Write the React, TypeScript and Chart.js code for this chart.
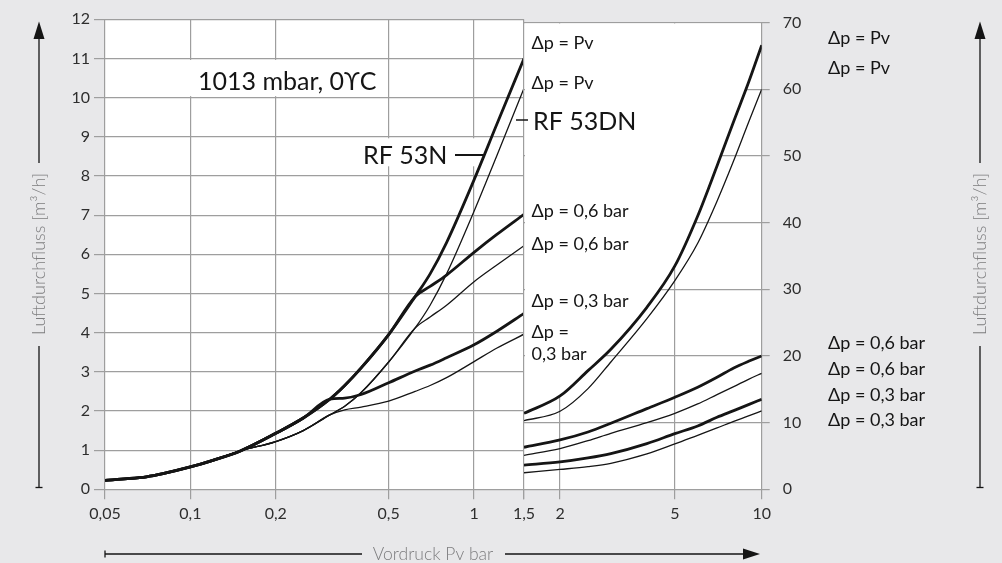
import React, { useEffect, useRef } from 'react';
import { Chart, registerables } from 'chart.js';

Chart.register(...registerables);

const FONT = "Lato, 'DejaVu Sans', sans-serif";
const INK = '#151515';
const GRID = '#9e9e9e';
const TICK_TEXT = '#2e2e2e';
const BG = '#e8e8ea';

// ---------- left panel (0,05 … 1,5 bar, left axis 0 … 12 m³/h) ----------
const leftPressure = [0.05, 0.06, 0.07, 0.08, 0.1, 0.12, 0.15, 0.2, 0.25, 0.31, 0.35, 0.4, 0.5, 0.62, 0.7, 0.8, 1.0, 1.2, 1.5];
const rf53nPvLeft = [0.23, 0.27, 0.32, 0.4, 0.57, 0.74, 0.98, 1.43, 1.82, 2.3, 2.65, 3.1, 3.95, 4.92, 5.5, 6.3, 7.9, 9.3, 11.0];
const rf53dnPvLeft = [0.23, 0.27, 0.32, 0.4, 0.57, 0.74, 0.98, 1.22, 1.5, 1.9, 2.12, 2.47, 3.25, 4.12, 4.7, 5.5, 7.1, 8.5, 10.24];
const rf53n06Left = [0.23, 0.27, 0.32, 0.4, 0.57, 0.74, 0.98, 1.43, 1.82, 2.3, 2.65, 3.1, 3.95, 4.92, 5.18, 5.47, 6.05, 6.5, 7.02];
const rf53dn06Left = [0.23, 0.27, 0.32, 0.4, 0.57, 0.74, 0.98, 1.22, 1.5, 1.9, 2.12, 2.47, 3.25, 4.12, 4.4, 4.7, 5.3, 5.72, 6.22];
const rf53n03Left = [0.23, 0.27, 0.32, 0.4, 0.57, 0.74, 0.98, 1.43, 1.82, 2.3, 2.33, 2.42, 2.72, 3.02, 3.17, 3.36, 3.69, 4.03, 4.49];
const rf53dn03Left = [0.23, 0.27, 0.32, 0.4, 0.57, 0.74, 0.98, 1.22, 1.5, 1.9, 2.03, 2.1, 2.25, 2.5, 2.65, 2.85, 3.26, 3.6, 3.96];
const leftPressureTicks = [0.05, 0.1, 0.2, 0.5, 1, 1.5];
const leftFlowMax = 12;

// ---------- right panel (1,5 … 10 bar, right axis 0 … 70 m³/h) ----------
const rightPressure = [1.5, 2, 2.5, 3, 4, 5, 6, 7, 8, 9, 10];
const rf53nPvRight = [11.4, 14.0, 17.8, 21.0, 27.3, 33.5, 41.0, 48.5, 55.2, 61.0, 66.6];
const rf53dnPvRight = [10.3, 11.7, 15.1, 19.1, 25.6, 31.3, 36.9, 43.2, 49.3, 55.0, 60.0];
const rf53n06Right = [6.3, 7.4, 8.6, 9.9, 12.1, 13.8, 15.3, 16.8, 18.2, 19.2, 20.0];
const rf53dn06Right = [5.1, 6.1, 7.3, 8.4, 10.0, 11.4, 12.8, 14.2, 15.4, 16.5, 17.4];
const rf53n03Right = [3.62, 4.1, 4.7, 5.35, 6.85, 8.35, 9.5, 10.8, 11.8, 12.7, 13.5];
const rf53dn03Right = [2.48, 2.98, 3.4, 3.9, 5.3, 6.8, 8.1, 9.2, 10.2, 11.0, 11.75];
const rightPressureTicks = [1.5, 2, 5, 10];
const rightFlowMax = 70;

const BOLD = 2.8;
const THIN = 1.3;

const fmt = (v: number) => String(v).replace('.', ',');

function line(label: string, xs: number[], ys: number[], bold: boolean) {
  return {
    label,
    data: xs.map((x, i) => ({ x, y: ys[i] })),
    borderColor: INK,
    borderWidth: bold ? BOLD : THIN,
    pointRadius: 0,
    fill: false,
    cubicInterpolationMode: 'monotone' as const,
  };
}

function txt(ctx: CanvasRenderingContext2D, s: string, x: number, y: number, size: number, opts: any = {}) {
  ctx.save();
  ctx.font = `${opts.weight || '400'} ${size}px ${FONT}`;
  ctx.fillStyle = opts.color || INK;
  ctx.textAlign = opts.align || 'left';
  ctx.textBaseline = opts.baseline || 'alphabetic';
  ctx.fillText(s, x, y);
  ctx.restore();
}

function seg(ctx: CanvasRenderingContext2D, x1: number, y1: number, x2: number, y2: number, w: number, color = INK) {
  ctx.save();
  ctx.strokeStyle = color;
  ctx.lineWidth = w;
  ctx.beginPath();
  ctx.moveTo(x1, y1);
  ctx.lineTo(x2, y2);
  ctx.stroke();
  ctx.restore();
}

const whitePlot = {
  id: 'whitePlot',
  beforeDraw(chart: any) {
    const { ctx, chartArea: a } = chart;
    ctx.save();
    ctx.fillStyle = '#ffffff';
    ctx.fillRect(a.left, a.top, a.right - a.left, a.bottom - a.top);
    ctx.restore();
  },
};

const leftNotes = {
  id: 'leftNotes',
  beforeDatasetsDraw(chart: any) {
    const { ctx } = chart;
    const y = chart.scales.y;
    ctx.save();
    ctx.fillStyle = '#ffffff';
    // label boxes hide the grid behind the text
    ctx.fillRect(190, y.getPixelForValue(11) + 1.5, 192, y.getPixelForValue(10) - y.getPixelForValue(11) - 3);
    ctx.fillRect(355, y.getPixelForValue(9) + 1.5, 127, 28);
    ctx.restore();
  },
  afterDatasetsDraw(chart: any) {
    const { ctx } = chart;
    txt(ctx, '1013 mbar, 0ϒC', 198, 89.5, 25);
    txt(ctx, 'RF 53N', 363, 163.5, 25);
    seg(ctx, 455, 155, 485, 155, 2);
  },
};

const rightMask = {
  id: 'rightMask',
  beforeDatasetsDraw(chart: any) {
    const { ctx, chartArea: a } = chart;
    const el = chart.getDatasetMeta(0).dataset;
    if (!el || typeof el.path !== 'function') return;
    ctx.save();
    ctx.beginPath();
    ctx.rect(a.left + 1, a.top + 1, a.right - a.left - 2, a.bottom - a.top - 2);
    ctx.clip();
    ctx.beginPath();
    el.path(ctx);
    ctx.lineTo(a.right, a.top);
    ctx.lineTo(a.left, a.top);
    ctx.closePath();
    ctx.fillStyle = '#ffffff';
    ctx.fill();
    ctx.restore();
  },
  afterDatasetsDraw(chart: any) {
    const { ctx } = chart;
    const lx = 531.5;
    txt(ctx, 'Δp = Pv', lx, 48.5, 18);
    txt(ctx, 'Δp = Pv', lx, 88.5, 18);
    seg(ctx, 516, 120, 528, 120, 1.5);
    txt(ctx, 'RF 53DN', 533, 129.5, 25);
    txt(ctx, 'Δp = 0,6 bar', lx, 217, 18);
    txt(ctx, 'Δp = 0,6 bar', lx, 250, 18);
    txt(ctx, 'Δp = 0,3 bar', lx, 307, 18);
    txt(ctx, 'Δp =', lx, 338, 18);
    txt(ctx, '0,3 bar', lx, 359.5, 18);
  },
  afterDraw(chart: any) {
    const { ctx } = chart;
    // outside notes
    const ox = 828;
    txt(ctx, 'Δp = Pv', ox, 43.5, 18);
    txt(ctx, 'Δp = Pv', ox, 73.5, 18);
    txt(ctx, 'Δp = 0,6 bar', ox, 348.5, 18);
    txt(ctx, 'Δp = 0,6 bar', ox, 375, 18);
    txt(ctx, 'Δp = 0,3 bar', ox, 400.5, 18);
    txt(ctx, 'Δp = 0,3 bar', ox, 426, 18);

    // vertical axis titles with arrows (left and right)
    for (const x of [39, 980]) {
      seg(ctx, x, 163, x, 36, 1.3);
      ctx.save();
      ctx.fillStyle = INK;
      ctx.beginPath();
      ctx.moveTo(x, 21.5);
      ctx.lineTo(x - 5.5, 39);
      ctx.lineTo(x + 5.5, 39);
      ctx.closePath();
      ctx.fill();
      ctx.restore();
      seg(ctx, x, 346, x, 487.5, 1.3);
      seg(ctx, x - 3.5, 487.5, x + 3.5, 487.5, 1.3);
      ctx.save();
      ctx.translate(x, 254);
      ctx.rotate(-Math.PI / 2);
      txt(ctx, 'Luftdurchfluss [m³/h]', 0, 0, 18, { color: '#7d7d7f', weight: '300', align: 'center', baseline: 'middle' });
      ctx.restore();
    }

    // horizontal axis title with arrow
    const yb = 554;
    seg(ctx, 105, yb, 362, yb, 1.3);
    seg(ctx, 105, yb - 3.5, 105, yb + 3.5, 1.3);
    txt(ctx, 'Vordruck Pv bar', 433, 559.5, 17.5, { color: '#7d7d7f', weight: '300', align: 'center' });
    seg(ctx, 505, yb, 746, yb, 1.3);
    ctx.save();
    ctx.fillStyle = INK;
    ctx.beginPath();
    ctx.moveTo(760, yb);
    ctx.lineTo(743, yb - 5.5);
    ctx.lineTo(743, yb + 5.5);
    ctx.closePath();
    ctx.fill();
    ctx.restore();
  },
};

const tickFont = { family: FONT, size: 16 };

function leftConfig(): any {
  return {
    type: 'line',
    data: {
      datasets: [
        line('RF 53N Δp = Pv', leftPressure, rf53nPvLeft, true),
        line('RF 53DN Δp = Pv', leftPressure, rf53dnPvLeft, false),
        line('RF 53N Δp = 0,6 bar', leftPressure, rf53n06Left, true),
        line('RF 53DN Δp = 0,6 bar', leftPressure, rf53dn06Left, false),
        line('RF 53N Δp = 0,3 bar', leftPressure, rf53n03Left, true),
        line('RF 53DN Δp = 0,3 bar', leftPressure, rf53dn03Left, false),
      ],
    },
    options: {
      responsive: false,
      animation: false,
      devicePixelRatio: 1,
      layout: { padding: { left: 0, top: 19.3, right: 478, bottom: 0 } },
      plugins: { legend: { display: false }, tooltip: { enabled: false } },
      scales: {
        x: {
          type: 'logarithmic',
          min: leftPressureTicks[0],
          max: leftPressureTicks[leftPressureTicks.length - 1],
          afterBuildTicks: (s: any) => { s.ticks = leftPressureTicks.map((v) => ({ value: v })); },
          afterFit: (s: any) => { s.height = 73.7; },
          ticks: { callback: (v: number) => fmt(v), autoSkip: false, maxRotation: 0, font: tickFont, color: TICK_TEXT, padding: 5 },
          grid: { color: GRID, lineWidth: 1.2, tickLength: 10, tickColor: GRID },
          border: { display: false },
        },
        y: {
          type: 'linear',
          min: 0,
          max: leftFlowMax,
          afterFit: (s: any) => { s.width = 105; },
          ticks: { stepSize: 1, font: tickFont, color: TICK_TEXT, padding: 4 },
          grid: { color: GRID, lineWidth: 1.2, tickLength: 11, tickColor: GRID },
          border: { display: false },
        },
      },
    },
    plugins: [whitePlot, leftNotes],
  };
}

function rightConfig(): any {
  return {
    type: 'line',
    data: {
      datasets: [
        line('RF 53N Δp = Pv', rightPressure, rf53nPvRight, true),
        line('RF 53DN Δp = Pv', rightPressure, rf53dnPvRight, false),
        line('RF 53N Δp = 0,6 bar', rightPressure, rf53n06Right, true),
        line('RF 53DN Δp = 0,6 bar', rightPressure, rf53dn06Right, false),
        line('RF 53N Δp = 0,3 bar', rightPressure, rf53n03Right, true),
        line('RF 53DN Δp = 0,3 bar', rightPressure, rf53dn03Right, false),
      ],
    },
    options: {
      responsive: false,
      animation: false,
      devicePixelRatio: 1,
      layout: { padding: { left: 524, top: 19.3, right: 180.3, bottom: 0 } },
      plugins: { legend: { display: false }, tooltip: { enabled: false } },
      scales: {
        x: {
          type: 'logarithmic',
          min: rightPressureTicks[0],
          max: rightPressureTicks[rightPressureTicks.length - 1],
          afterBuildTicks: (s: any) => { s.ticks = rightPressureTicks.map((v) => ({ value: v })); },
          afterFit: (s: any) => { s.height = 73.7; },
          ticks: { callback: (v: number) => (v === rightPressureTicks[0] ? '' : fmt(v)), autoSkip: false, maxRotation: 0, font: tickFont, color: TICK_TEXT, padding: 5 },
          grid: { color: GRID, lineWidth: 1.2, tickLength: 10, tickColor: GRID },
          border: { display: false },
        },
        y: {
          type: 'linear',
          position: 'right',
          min: 0,
          max: rightFlowMax,
          afterFit: (s: any) => { s.width = 60; },
          ticks: { stepSize: 10, font: tickFont, color: TICK_TEXT, padding: 13 },
          grid: { color: GRID, lineWidth: 1.2, tickLength: 8, tickColor: GRID },
          border: { display: false },
        },
      },
    },
    plugins: [whitePlot, rightMask],
  };
}

export default function App() {
  const leftRef = useRef<HTMLCanvasElement>(null);
  const rightRef = useRef<HTMLCanvasElement>(null);

  useEffect(() => {
    const c1 = new Chart(leftRef.current as HTMLCanvasElement, leftConfig());
    const c2 = new Chart(rightRef.current as HTMLCanvasElement, rightConfig());
    return () => {
      c1.destroy();
      c2.destroy();
    };
  }, []);

  const cs: React.CSSProperties = { position: 'absolute', left: 0, top: 0, width: 1002, height: 563 };
  return (
    <div style={{ position: 'fixed', left: 0, top: 0, width: 1002, height: 563, background: BG, overflow: 'hidden' }}>
      <canvas ref={leftRef} width={1002} height={563} style={cs} />
      <canvas ref={rightRef} width={1002} height={563} style={cs} />
    </div>
  );
}
